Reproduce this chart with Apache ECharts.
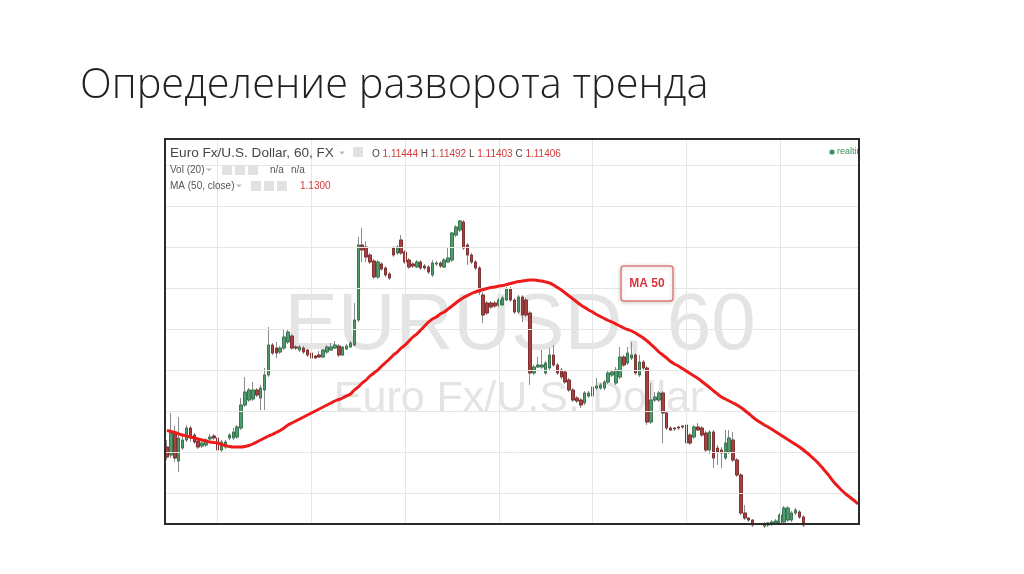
<!DOCTYPE html>
<html><head><meta charset="utf-8">
<script src="https://cdn.jsdelivr.net/npm/echarts@6/dist/echarts.min.js"></script>
<style>html,body{margin:0;padding:0;background:#fff;}#c{width:1024px;height:574px;}</style>
</head><body><div id="c"></div>
<script>
// EUR/USD hourly candles (price), index 0 = first visible bar
const opens = [1.1362,1.1354,1.1377,1.1348,1.1361,1.1369,1.1381,1.1374,1.1368,1.1363,
1.1364,1.1370,1.1373,1.1371,1.1359,1.1362,1.1371,1.1371,1.1372,1.1381,
1.1404,1.1409,1.1410,1.1419,1.1411,1.1419,1.1434,1.1464,1.1461,1.1457,
1.1461,1.1467,1.1473,1.1462,1.1459,1.1461,1.1459,1.1456,1.1453,1.1454,
1.1452,1.1457,1.1459,1.1461,1.1463,1.1454,1.1460,1.1462,1.1464,1.1489,
1.1564,1.1562,1.1554,1.1548,1.1532,1.1545,1.1541,1.1535,1.1561,1.1556,
1.1569,1.1557,1.1549,1.1545,1.1542,1.1547,1.1543,1.1542,1.1534,1.1545,
1.1546,1.1542,1.1547,1.1549,1.1574,1.1579,1.1587,1.1564,1.1554,1.1547,
1.1541,1.1514,1.1506,1.1506,1.1506,1.1504,1.1504,1.1509,1.1520,1.1509,
1.1497,1.1512,1.1509,1.1496,1.1436,1.1442,1.1442,1.1436,1.1441,1.1454,
1.1444,1.1439,1.1437,1.1429,1.1419,1.1411,1.1409,1.1406,1.1413,1.1413,
1.1421,1.1421,1.1421,1.1427,1.1434,1.1426,1.1432,1.1452,1.1446,1.1451,
1.1454,1.1434,1.1447,1.1441,1.1387,1.1409,1.1409,1.1416,1.1396,1.1381,
1.1381,1.1382,1.1383,1.1384,1.1374,1.1372,1.1382,1.1381,1.1376,1.1359,
1.1377,1.1361,1.1359,1.1351,1.1357,1.1369,1.1349,1.1334,1.1296,1.1291,
1.1289,1.1282,1.1277,1.1283,1.1284,1.1285,1.1286,1.1286,1.1287,1.1289,
1.1289,1.1296,1.1297,1.1292];
const closes = [1.1352,1.1376,1.1351,1.1371,1.1369,1.1381,1.1371,1.1367,1.1362,1.1366,
1.1369,1.1372,1.1371,1.1359,1.1367,1.1367,1.1374,1.1377,1.1382,1.1404,
1.1417,1.1419,1.1419,1.1414,1.1421,1.1434,1.1464,1.1456,1.1456,1.1461,
1.1472,1.1477,1.1461,1.1461,1.1462,1.1457,1.1454,1.1451,1.1451,1.1452,
1.1459,1.1462,1.1462,1.1464,1.1454,1.1462,1.1463,1.1466,1.1489,1.1564,
1.1559,1.1552,1.1547,1.1532,1.1547,1.1540,1.1534,1.1531,1.1554,1.1562,
1.1556,1.1547,1.1542,1.1543,1.1547,1.1541,1.1541,1.1537,1.1546,1.1546,
1.1543,1.1549,1.1551,1.1576,1.1582,1.1588,1.1561,1.1554,1.1547,1.1541,
1.1517,1.1494,1.1496,1.1502,1.1503,1.1509,1.1511,1.1520,1.1509,1.1497,
1.1512,1.1494,1.1494,1.1436,1.1442,1.1444,1.1444,1.1446,1.1454,1.1444,
1.1436,1.1432,1.1427,1.1419,1.1409,1.1408,1.1404,1.1416,1.1416,1.1422,
1.1423,1.1424,1.1427,1.1436,1.1437,1.1439,1.1452,1.1444,1.1456,1.1454,
1.1436,1.1447,1.1441,1.1387,1.1409,1.1412,1.1416,1.1396,1.1381,1.1379,
1.1380,1.1381,1.1382,1.1366,1.1366,1.1382,1.1379,1.1374,1.1359,1.1377,
1.1351,1.1357,1.1356,1.1366,1.1371,1.1349,1.1334,1.1296,1.1291,1.1289,
1.1284,1.1276,1.1280,1.1285,1.1286,1.1287,1.1288,1.1294,1.1301,1.1301,
1.1296,1.1299,1.1292,1.1284];
const lows = [1.1349,1.1351,1.1347,1.1337,1.1359,1.1367,1.1367,1.1365,1.1360,1.1361,
1.1362,1.1368,1.1369,1.1357,1.1357,1.1360,1.1369,1.1369,1.1370,1.1379,
1.1402,1.1407,1.1408,1.1412,1.1399,1.1399,1.1432,1.1454,1.1451,1.1455,
1.1459,1.1465,1.1459,1.1459,1.1457,1.1455,1.1452,1.1449,1.1450,1.1451,
1.1451,1.1455,1.1458,1.1460,1.1452,1.1453,1.1459,1.1461,1.1463,1.1487,
1.1547,1.1547,1.1545,1.1530,1.1530,1.1538,1.1532,1.1529,1.1552,1.1554,
1.1554,1.1545,1.1540,1.1541,1.1541,1.1539,1.1539,1.1535,1.1532,1.1543,
1.1541,1.1541,1.1546,1.1547,1.1572,1.1577,1.1559,1.1544,1.1545,1.1539,
1.1514,1.1486,1.1494,1.1500,1.1501,1.1502,1.1503,1.1508,1.1507,1.1495,
1.1495,1.1487,1.1492,1.1424,1.1434,1.1441,1.1440,1.1434,1.1439,1.1442,
1.1434,1.1430,1.1425,1.1417,1.1407,1.1406,1.1401,1.1404,1.1411,1.1411,
1.1419,1.1419,1.1419,1.1425,1.1432,1.1424,1.1430,1.1442,1.1444,1.1449,
1.1434,1.1432,1.1439,1.1384,1.1385,1.1407,1.1407,1.1366,1.1379,1.1378,
1.1378,1.1379,1.1380,1.1364,1.1364,1.1370,1.1378,1.1372,1.1357,1.1355,
1.1341,1.1344,1.1341,1.1349,1.1355,1.1347,1.1332,1.1294,1.1289,1.1287,
1.1282,1.1273,1.1274,1.1281,1.1282,1.1283,1.1284,1.1284,1.1285,1.1287,
1.1287,1.1294,1.1290,1.1282];
const highs = [1.1369,1.1396,1.1383,1.1392,1.1373,1.1384,1.1383,1.1376,1.1370,1.1368,
1.1371,1.1375,1.1375,1.1373,1.1369,1.1369,1.1376,1.1381,1.1384,1.1411,
1.1432,1.1421,1.1427,1.1421,1.1424,1.1441,1.1482,1.1466,1.1467,1.1463,
1.1479,1.1479,1.1475,1.1464,1.1464,1.1463,1.1460,1.1457,1.1454,1.1458,
1.1460,1.1464,1.1466,1.1468,1.1465,1.1463,1.1465,1.1468,1.1506,1.1572,
1.1581,1.1568,1.1556,1.1550,1.1549,1.1547,1.1543,1.1537,1.1563,1.1564,
1.1574,1.1559,1.1551,1.1547,1.1549,1.1549,1.1545,1.1544,1.1549,1.1548,
1.1548,1.1551,1.1561,1.1577,1.1584,1.1589,1.1589,1.1566,1.1556,1.1549,
1.1543,1.1517,1.1508,1.1508,1.1508,1.1511,1.1513,1.1522,1.1522,1.1511,
1.1514,1.1514,1.1511,1.1498,1.1444,1.1452,1.1459,1.1448,1.1461,1.1464,
1.1446,1.1441,1.1439,1.1431,1.1421,1.1413,1.1411,1.1418,1.1418,1.1431,
1.1431,1.1426,1.1429,1.1438,1.1439,1.1442,1.1462,1.1454,1.1462,1.1467,
1.1456,1.1454,1.1449,1.1443,1.1426,1.1417,1.1418,1.1418,1.1398,1.1383,
1.1382,1.1383,1.1384,1.1386,1.1376,1.1384,1.1386,1.1383,1.1378,1.1379,
1.1379,1.1364,1.1362,1.1379,1.1379,1.1377,1.1351,1.1336,1.1304,1.1292,
1.1290,1.1283,1.1282,1.1287,1.1287,1.1289,1.1290,1.1296,1.1303,1.1303,
1.1298,1.1301,1.1299,1.1294];
// 50-period moving average of close (continues where bars fall below the view)
const ma50 = [1.13785,1.13775,1.13765,1.1375,1.1374,1.1373,1.1372,1.1371,1.1370,1.1369,
1.1368,1.1367,1.13665,1.1366,1.13645,1.13635,1.13625,1.1362,1.1362,1.1362,
1.13625,1.13635,1.1365,1.1367,1.1369,1.1371,1.1373,1.13745,1.13765,1.13785,
1.1381,1.1384,1.1386,1.1388,1.1390,1.1392,1.1394,1.1396,1.1398,1.1400,
1.1402,1.1404,1.1406,1.1408,1.14095,1.1411,1.1413,1.1415,1.1419,1.1422,
1.1426,1.1429,1.1433,1.1436,1.1439,1.1443,1.14465,1.1450,1.1454,1.1457,
1.1461,1.1464,1.1468,1.1472,1.1475,1.1479,1.1483,1.1487,1.1490,1.1492,
1.1495,1.1497,1.1500,1.1503,1.1506,1.1509,1.15115,1.15135,1.15155,1.1517,
1.15185,1.15195,1.15205,1.15215,1.1522,1.1523,1.15235,1.15245,1.15255,1.15265,
1.15275,1.1528,1.15285,1.1529,1.1529,1.15285,1.1528,1.1527,1.1526,1.1524,
1.15215,1.1519,1.1516,1.1513,1.1510,1.1507,1.1504,1.15015,1.1499,1.1497,
1.14945,1.14925,1.14905,1.14885,1.1487,1.1485,1.1483,1.1481,1.14795,1.1478,
1.1476,1.14735,1.1471,1.1468,1.14645,1.1461,1.1457,1.1454,1.1451,1.14475,
1.1445,1.1443,1.14405,1.1438,1.14355,1.1433,1.14305,1.14275,1.14245,1.14215,
1.1418,1.1415,1.1412,1.1410,1.1408,1.1406,1.1404,1.14015,1.13985,1.13955,
1.1392,1.1389,1.13865,1.1384,1.1382,1.13795,1.1377,1.13745,1.1372,1.13695,
1.1367,1.13645,1.1362,1.1359,1.1356,1.13525,1.1349,1.1345,1.13405,1.1336,
1.1331,1.1326,1.1322,1.1318,1.13145,1.13115,1.13085,1.1305];
// horizontal grid prices and bar indices where a new day starts (vertical grid)
const gridPrices = [1.1316,1.1357,1.1398,1.1439,1.1480,1.1521,1.1562,1.1603,1.1644];
const dayStartIdx = [13,37,61,85,109,133,157];
const quote = {O:'1.11444', H:'1.11492', L:'1.11403', C:'1.11406'};
const maLast = '1.1300';

// hourly category labels
const categories = [];
for (let i = 0; i < ma50.length; i++) {
  const d = new Date(Date.UTC(2015, 7, 17, 11 + i));
  categories.push(d.toISOString().slice(0, 13).replace('T', ' ') + ':00');
}
const candleData = categories.map((c, i) => i < opens.length ? [opens[i], closes[i], lows[i], highs[i]] : '-');
const bodyData = categories.map((c, i) => i < opens.length ?
  [opens[i], closes[i], Math.min(opens[i], closes[i]), Math.max(opens[i], closes[i])] : '-');

const chart = echarts.init(document.getElementById('c'), null, {renderer: 'canvas'});
const F = 'Arial, "Liberation Sans", sans-serif';
const icon = (x, y) => ({type: 'rect', shape: {x: x, y: y, width: 10, height: 10}, style: {fill: '#e2e2e2'}, z: 100});
const tri = (x, y) => ({type: 'polygon', shape: {points: [[x, y - 1.5], [x + 6, y - 1.5], [x + 3, y + 1.5]]}, style: {fill: '#bdbdbd'}, z: 100});
const txt = (t, x, y, size, fill, extra) => Object.assign({type: 'text', x: x, y: y, z: 100,
  style: {text: t, fontSize: size, fontFamily: F, fill: fill, verticalAlign: 'middle', align: 'left'}}, extra || {});

chart.setOption({
  animation: false,
  backgroundColor: '#ffffff',
  grid: {left: 165, right: 164, top: 139, bottom: 50},
  xAxis: {type: 'category', data: categories, boundaryGap: true,
    axisLine: {show: false}, axisTick: {show: false}, axisLabel: {show: false}, splitLine: {show: false}},
  yAxis: {type: 'value', min: 1.1285, max: 1.1670, scale: true,
    axisLine: {show: false}, axisTick: {show: false}, axisLabel: {show: false}, splitLine: {show: false}},
  series: [
    {name: 'grid', type: 'line', data: [], z: 1, silent: true,
      markLine: {silent: true, symbol: ['none', 'none'], label: {show: false}, animation: false, precision: 4,
        lineStyle: {color: '#e6e6e6', type: 'solid', width: 1},
        emphasis: {disabled: true},
        data: gridPrices.map(v => ({yAxis: v})).concat(dayStartIdx.map(i => ({xAxis: i})))}},
    {name: 'wick', type: 'candlestick', data: candleData, barWidth: 3, z: 3, clip: true, silent: true,
      itemStyle: {color: '#8c8c8c', color0: '#8c8c8c', borderColor: '#8c8c8c', borderColor0: '#8c8c8c', borderWidth: 1}},
    {name: 'EURUSD', type: 'candlestick', data: bodyData, barWidth: 3, z: 4, clip: true, silent: true,
      itemStyle: {color: '#4f9c6c', color0: '#a8403f', borderColor: '#2f7049', borderColor0: '#7a2626', borderWidth: 0.8}},
    {name: 'MA 50', type: 'line', data: ma50, smooth: 0.3, showSymbol: false, z: 6, silent: true,
      lineStyle: {color: '#ee1b1b', width: 3}}
  ],
  graphic: [
    // watermark
    {type: 'text', x: 520, y: 327, z: 0, silent: true,
      style: {text: 'EURUSD, 60', fontSize: 80, fontFamily: F, fill: '#e4e4e4', align: 'center', verticalAlign: 'middle'}},
    {type: 'text', x: 519, y: 399, z: 0, silent: true,
      style: {text: 'Euro Fx/U.S. Dollar', fontSize: 43, fontFamily: F, fill: '#e4e4e4', align: 'center', verticalAlign: 'middle'}},
    // slide title
    {type: 'text', x: 80, y: 86, z: 100,
      style: {text: 'Определение разворота тренда', fontSize: 41.5, fontFamily: '"Open Sans", "Noto Sans", sans-serif', fontWeight: 300, fill: '#222222', verticalAlign: 'middle'}},
    // header rows
    txt('Euro Fx/U.S. Dollar, 60, FX', 170, 153, 13.6, '#474747'),
    tri(339, 153), icon(353, 147),
    {type: 'text', x: 372, y: 154, z: 100, style: {
      text: '{k|O} {v|' + quote.O + '} {k|H} {v|' + quote.H + '} {k|L} {v|' + quote.L + '} {k|C} {v|' + quote.C + '}',
      fontSize: 10, fontFamily: F, verticalAlign: 'middle',
      rich: {k: {fontSize: 10, fontFamily: F, fill: '#444444'}, v: {fontSize: 10, fontFamily: F, fill: '#d23a3a'}}}},
    txt('Vol (20)', 170, 170, 10, '#555555'), tri(206, 170),
    icon(222, 165), icon(235, 165), icon(248, 165),
    txt('n/a', 270, 170, 10, '#555555'), txt('n/a', 291, 170, 10, '#555555'),
    txt('MA (50, close)', 170, 186, 10, '#555555'), tri(236, 186),
    icon(251, 181), icon(264, 181), icon(277, 181),
    txt(maLast, 300, 186, 10, '#d23a3a'),
    {type: 'circle', shape: {cx: 832, cy: 152, r: 2.6}, style: {fill: '#3f8f5c'}, z: 100},
    txt('realtime', 837, 152, 9, '#3f8f5c'),
    // cover overflow right of frame
    {type: 'rect', shape: {x: 860, y: 130, width: 164, height: 60}, style: {fill: '#ffffff'}, z: 101},
    // MA 50 annotation
    {type: 'rect', shape: {x: 621, y: 266, width: 52, height: 35, r: 3}, z: 102,
      style: {fill: '#ffffff', stroke: '#de7b7e', lineWidth: 1.5, shadowBlur: 4, shadowColor: 'rgba(0,0,0,0.18)', shadowOffsetY: 1}},
    {type: 'text', x: 647, y: 284, z: 103,
      style: {text: 'MA 50', fontSize: 12, fontWeight: 'bold', fontFamily: F, fill: '#d6363c', align: 'center', verticalAlign: 'middle'}},
    // frame of the chart screenshot
    {type: 'rect', shape: {x: 165, y: 139, width: 694, height: 385}, z: 110,
      style: {fill: 'none', stroke: '#2b2b2b', lineWidth: 2}}
  ]
});
</script></body></html>
